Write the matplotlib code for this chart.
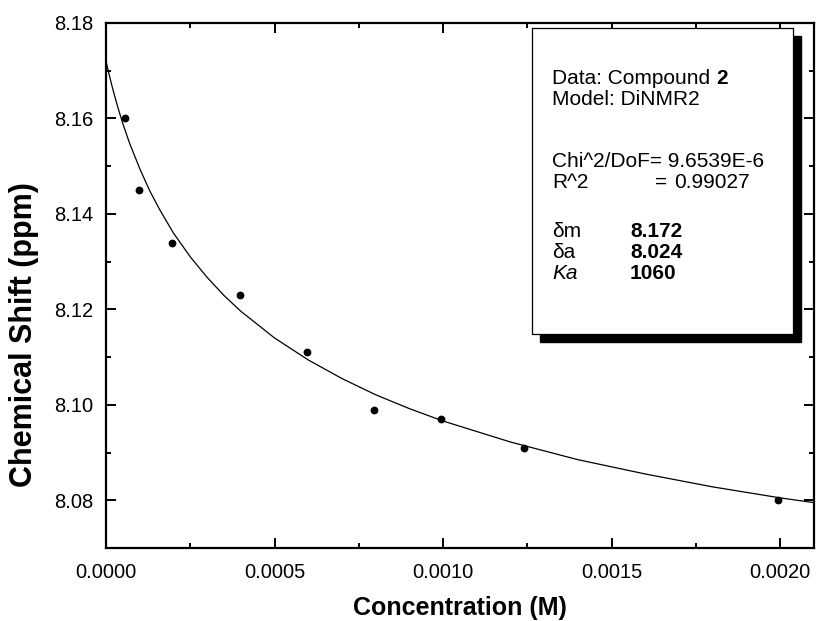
import matplotlib
matplotlib.use("Agg")
import matplotlib.pyplot as plt
from matplotlib.patches import Rectangle
from matplotlib.ticker import MultipleLocator, FormatStrFormatter

plt.rcParams['font.family'] = ['Liberation Sans', 'DejaVu Sans']

# measured points (concentration in M, shift in ppm)
conc = [0.000057, 0.000097, 0.000197, 0.000397, 0.000596,
        0.000796, 0.000995, 0.001241, 0.001992]
shift = [8.160, 8.145, 8.134, 8.123, 8.111, 8.099, 8.097, 8.091, 8.080]

# fitted curve
fit_conc = [0.0, 0.00001, 0.00002, 0.00003, 0.00004, 0.00005, 0.00007,
            0.0001, 0.00013, 0.00016, 0.0002, 0.00025, 0.0003, 0.00035,
            0.0004, 0.0005, 0.0006, 0.0007, 0.0008, 0.0009, 0.0010, 0.0012,
            0.0014, 0.0016, 0.0018, 0.0020, 0.0021]
fit_shift = [8.1720, 8.1690, 8.1662, 8.1636, 8.1612, 8.1589, 8.1548,
             8.1495, 8.1448, 8.1408, 8.1360, 8.1310, 8.1267, 8.1229,
             8.1196, 8.1140, 8.1094, 8.1055, 8.1021, 8.0992, 8.0966, 8.0922,
             8.0885, 8.0855, 8.0828, 8.0805, 8.0795]

title_text = "Data: Compound "
title_bold = "2"
model_text = "Model: DiNMR2"
chi_text = "Chi^2/DoF= 9.6539E-6"
r2_label, r2_value = "R^2", "0.99027"
param_names = ["\u03b4m", "\u03b4a", "Ka"]
param_styles = ["normal", "normal", "italic"]
param_values = ["8.172", "8.024", "1060"]

W, H = 817, 621
fig = plt.figure(figsize=(W / 100, H / 100), dpi=100)
ax = fig.add_axes([106 / W, 1 - 548 / H, 708 / W, 525 / H])


def px(x, y):
    return x / W, 1 - y / H


ax.plot(fit_conc, fit_shift, color='black', lw=0.9)
ax.plot(conc, shift, 'o', color='black', ms=4.6)

ax.set_xlim(0, 0.0021)
ax.set_ylim(8.07, 8.18)
ax.xaxis.set_major_locator(MultipleLocator(0.0005))
ax.xaxis.set_minor_locator(MultipleLocator(0.00025))
ax.yaxis.set_major_locator(MultipleLocator(0.02))
ax.yaxis.set_minor_locator(MultipleLocator(0.01))
ax.xaxis.set_major_formatter(FormatStrFormatter('%.4f'))
ax.yaxis.set_major_formatter(FormatStrFormatter('%.2f'))
ax.tick_params(which='both', direction='in', top=True, right=True, width=1.4)
ax.tick_params(which='major', length=7, labelsize=14.5)
ax.tick_params(axis='x', which='major', pad=11)
ax.tick_params(axis='y', which='major', pad=9)
ax.tick_params(which='minor', length=3.5)
for s in ax.spines.values():
    s.set_linewidth(1.6)

ax.set_xlabel("Concentration (M)", fontsize=18, fontweight='bold')
ax.set_ylabel("Chemical Shift (ppm)", fontsize=22, fontweight='bold')
ax.xaxis.set_label_coords(0.5, -0.114)
ax.xaxis.label.set_va('center')
ax.yaxis.set_label_coords(-0.1165, 0.406)
ax.yaxis.label.set_va('center')

# text box with drop shadow
bx0, by0 = px(532, 334)
bw, bh = 261 / W, 306 / H
fig.patches.append(Rectangle((bx0 + 8 / W, by0 - 8 / H), bw, bh,
                             transform=fig.transFigure, facecolor='black',
                             edgecolor='black', zorder=5))
fig.patches.append(Rectangle((bx0, by0), bw, bh, transform=fig.transFigure,
                             facecolor='white', edgecolor='black', lw=0.9,
                             zorder=6))

fs = 15
tx = 552
kw = dict(fontsize=fs, va='baseline', zorder=7)

t = fig.text(*px(tx, 84), title_text, **kw)
ext = t.get_window_extent(renderer=fig.canvas.get_renderer())
fig.text(ext.x1 / W, 1 - 84 / H, title_bold, fontweight='bold', **kw)
fig.text(*px(tx, 105), model_text, **kw)

fig.text(*px(tx, 167), chi_text, **kw)
fig.text(*px(tx, 188), r2_label, **kw)
fig.text(*px(655, 188), "=", **kw)
fig.text(*px(674, 188), r2_value, **kw)

for i, (name, style, val) in enumerate(zip(param_names, param_styles,
                                           param_values)):
    y = 237 + 21 * i
    fig.text(*px(tx, y), name, style=style, **kw)
    fig.text(*px(630, y), val, fontweight='bold', **kw)

fig.savefig("out.png", dpi=100)
